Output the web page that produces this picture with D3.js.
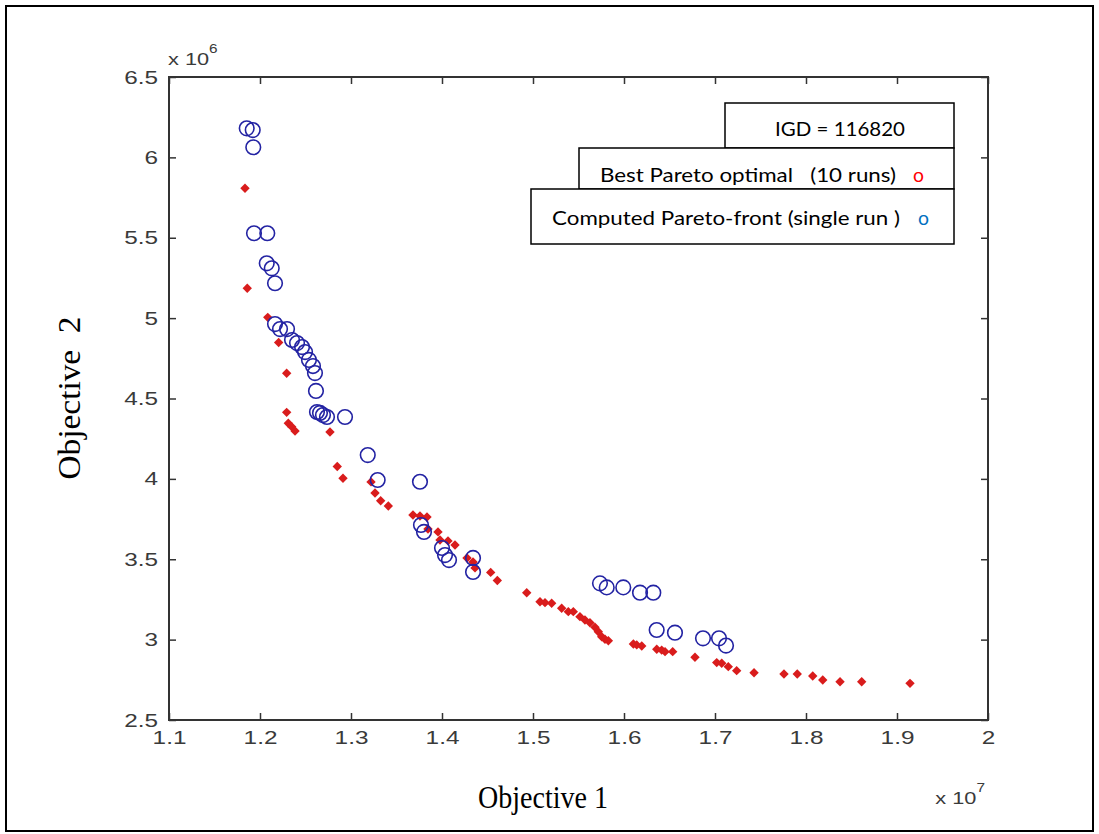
<!DOCTYPE html>
<html>
<head>
<meta charset="utf-8">
<script src="https://cdn.jsdelivr.net/npm/d3@7"></script>
<style>
  html, body { margin: 0; padding: 0; background: #fff; }
  svg { display: block; }
</style>
</head>
<body>
<svg id="chart" width="1099" height="834"></svg>
<script>
// ---- Data (Objective 1 in units of 1e7, Objective 2 in units of 1e6) ----
const xTickValues = [1.1, 1.2, 1.3, 1.4, 1.5, 1.6, 1.7, 1.8, 1.9, 2];
const yTickValues = [2.5, 3, 3.5, 4, 4.5, 5, 5.5, 6, 6.5];

// Best Pareto optimal (10 runs) - red diamonds
const bestObj1 = [1.1835,1.1860,1.2085,1.2205,1.2293,1.2293,1.2311,1.2348,1.2385,1.2769,
  1.2849,1.2912,1.3220,1.3264,1.3326,1.3410,1.3681,1.3758,1.3835,1.3846,
  1.3956,1.3978,1.4066,1.4143,1.4275,1.4341,1.4363,1.4535,1.4608,1.4931,
  1.5077,1.5132,1.5205,1.5315,1.5388,1.5443,1.5516,1.5571,1.5626,1.5681,
  1.5718,1.5755,1.5791,1.5828,1.6103,1.6140,1.6195,1.6360,1.6414,1.6451,
  1.6535,1.6780,1.7019,1.7074,1.7146,1.7238,1.7429,1.7758,1.7904,1.8074,
  1.8184,1.8374,1.8612,1.9143];
const bestObj2 = [5.808,5.186,5.005,4.848,4.657,4.414,4.346,4.325,4.298,4.292,
  4.077,4.004,3.981,3.912,3.864,3.831,3.775,3.769,3.763,3.688,
  3.670,3.620,3.614,3.589,3.508,3.483,3.446,3.418,3.368,3.292,
  3.236,3.230,3.226,3.195,3.174,3.174,3.143,3.122,3.105,3.077,
  3.049,3.018,3.002,2.993,2.973,2.967,2.960,2.940,2.935,2.925,
  2.925,2.890,2.857,2.853,2.832,2.807,2.794,2.786,2.786,2.774,
  2.749,2.738,2.738,2.728];

// Computed Pareto-front (single run) - blue circles
const compObj1 = [1.1854,1.1920,1.1926,1.1934,1.2080,1.2074,1.2129,1.2165,1.2165,1.2220,
  1.2297,1.2352,1.2407,1.2462,1.2495,1.2538,1.2582,1.2604,1.2615,1.2626,
  1.2659,1.2692,1.2736,1.2934,1.3184,1.3293,1.3758,1.3769,1.3802,1.4000,
  1.4033,1.4077,1.4341,1.4341,1.5736,1.5810,1.5992,1.6176,1.6322,1.6359,
  1.6560,1.6868,1.7044,1.7121];
const compObj2 = [6.181,6.170,6.063,5.528,5.528,5.341,5.310,5.217,4.963,4.932,
  4.932,4.864,4.845,4.820,4.789,4.740,4.702,4.658,4.547,4.416,
  4.410,4.397,4.385,4.385,4.148,3.993,3.982,3.713,3.670,3.570,
  3.526,3.495,3.508,3.421,3.350,3.325,3.325,3.292,3.292,3.060,
  3.043,3.008,3.008,2.963];

const igdText = "IGD = 116820";
const bestLabel = "Best Pareto optimal   (10 runs)";
const compLabel = "Computed Pareto-front (single run )";

// ---- Layout ----
const svg = d3.select("#chart");
const L = 169, R = 988, T = 77, B = 720;
const x = d3.scaleLinear().domain([1.1, 2]).range([L, R]);
const y = d3.scaleLinear().domain([2.5, 6.5]).range([B, T]);

svg.append("rect").attr("width", 1099).attr("height", 834).attr("fill", "#fff");
// outer frame
svg.append("rect").attr("x", 6).attr("y", 6).attr("width", 1087).attr("height", 825)
  .attr("fill", "none").attr("stroke", "#000").attr("stroke-width", 2);

const axisColor = "#333";
const labelColor = "#3a3a3a";
const sx = 1.28;
const tickFont = "Liberation Sans, Arial, sans-serif";

const fmt = d => String(d);

// bottom axis
const gB = svg.append("g").attr("transform", `translate(0,${B})`)
  .call(d3.axisBottom(x).tickValues(xTickValues).tickFormat(fmt).tickSizeInner(-7).tickSizeOuter(0).tickPadding(11));
// left axis
const gL = svg.append("g").attr("transform", `translate(${L},0)`)
  .call(d3.axisLeft(y).tickValues(yTickValues).tickFormat(fmt).tickSizeInner(-7).tickSizeOuter(0).tickPadding(11));
// top & right (ticks only)
const gT = svg.append("g").attr("transform", `translate(0,${T})`)
  .call(d3.axisTop(x).tickValues(xTickValues).tickFormat("").tickSizeInner(-7).tickSizeOuter(0));
const gR = svg.append("g").attr("transform", `translate(${R},0)`)
  .call(d3.axisRight(y).tickValues(yTickValues).tickFormat("").tickSizeInner(-7).tickSizeOuter(0));

[gB, gL, gT, gR].forEach(g => {
  g.select(".domain").remove();
  g.selectAll(".tick line").attr("stroke", axisColor).attr("stroke-width", 1.5);
  g.selectAll(".tick text").attr("fill", labelColor)
    .style("font-family", tickFont).style("font-size", "19px");
});
gL.selectAll(".tick text").attr("x", -11 / sx).attr("transform", `scale(${sx},1)`);
gB.selectAll(".tick text").attr("transform", `scale(${sx},1)`);

// plot box
svg.append("rect").attr("x", L).attr("y", T).attr("width", R - L).attr("height", B - T)
  .attr("fill", "none").attr("stroke", axisColor).attr("stroke-width", 2);

// exponent labels
const e6 = svg.append("text").attr("transform", `translate(168,65) scale(${sx},1)`).attr("fill", labelColor)
  .style("font-family", tickFont).style("font-size", "17px");
e6.append("tspan").text("x 10");
e6.append("tspan").attr("dy", -12).style("font-size", "12px").text("6");

const e7 = svg.append("text").attr("transform", `translate(985,804) scale(${sx},1)`).attr("fill", labelColor)
  .attr("text-anchor", "end")
  .style("font-family", tickFont).style("font-size", "17px");
e7.append("tspan").text("x 10");
e7.append("tspan").attr("dy", -12).style("font-size", "12px").text("7");

// axis titles
svg.append("text").attr("x", 543).attr("y", 808).attr("text-anchor", "middle")
  .style("font-family", "Liberation Serif, Times New Roman, serif").style("font-size", "31px")
  .attr("textLength", 130).attr("lengthAdjust", "spacingAndGlyphs")
  .text("Objective 1");
svg.append("text").attr("transform", "translate(80,398) rotate(-90)").attr("text-anchor", "middle")
  .style("font-family", "Liberation Serif, Times New Roman, serif").style("font-size", "31px")
  .style("white-space", "pre").attr("xml:space", "preserve")
  .attr("textLength", 163).attr("lengthAdjust", "spacingAndGlyphs")
  .text("Objective  2");

// ---- Marks ----
const best = bestObj1.map((v, i) => ({ o1: v, o2: bestObj2[i] }));
const comp = compObj1.map((v, i) => ({ o1: v, o2: compObj2[i] }));

const diamond = d3.symbol().type(d3.symbolSquare).size(44);
svg.append("g").selectAll("path").data(best).join("path")
  .attr("d", diamond)
  .attr("transform", d => `translate(${x(d.o1)},${y(d.o2)}) rotate(45)`)
  .attr("fill", "#d91c1c");

svg.append("g").selectAll("circle").data(comp).join("circle")
  .attr("cx", d => x(d.o1)).attr("cy", d => y(d.o2)).attr("r", 7.3)
  .attr("fill", "none").attr("stroke", "#2323a3").attr("stroke-width", 1.6);

// ---- Annotation boxes ----
const boxFont = "Lato, 'Open Sans', sans-serif";
const boxes = [
  { x0: 725, y0: 103, x1: 954, y1: 148 },
  { x0: 579, y0: 148, x1: 954, y1: 189 },
  { x0: 531, y0: 189, x1: 954, y1: 244 }
];
boxes.forEach(b => {
  svg.append("rect").attr("x", b.x0).attr("y", b.y0).attr("width", b.x1 - b.x0).attr("height", b.y1 - b.y0)
    .attr("fill", "#fff").attr("stroke", "#000").attr("stroke-width", 1.5);
});
const txt = (s, xx, yy, w, col) => svg.append("text").attr("x", xx).attr("y", yy)
  .attr("fill", col || "#000").style("font-family", boxFont).style("font-size", "19px")
  .style("white-space", "pre").attr("xml:space", "preserve")
  .attr("textLength", w).attr("lengthAdjust", "spacingAndGlyphs").text(s);
txt(igdText, 775, 136, 130);
txt(bestLabel, 600, 182, 296);
txt("o", 913, 182, 11, "#ff0000");
txt(compLabel, 552, 225, 348);
txt("o", 918, 225, 11, "#0070c0");
</script>
</body>
</html>
